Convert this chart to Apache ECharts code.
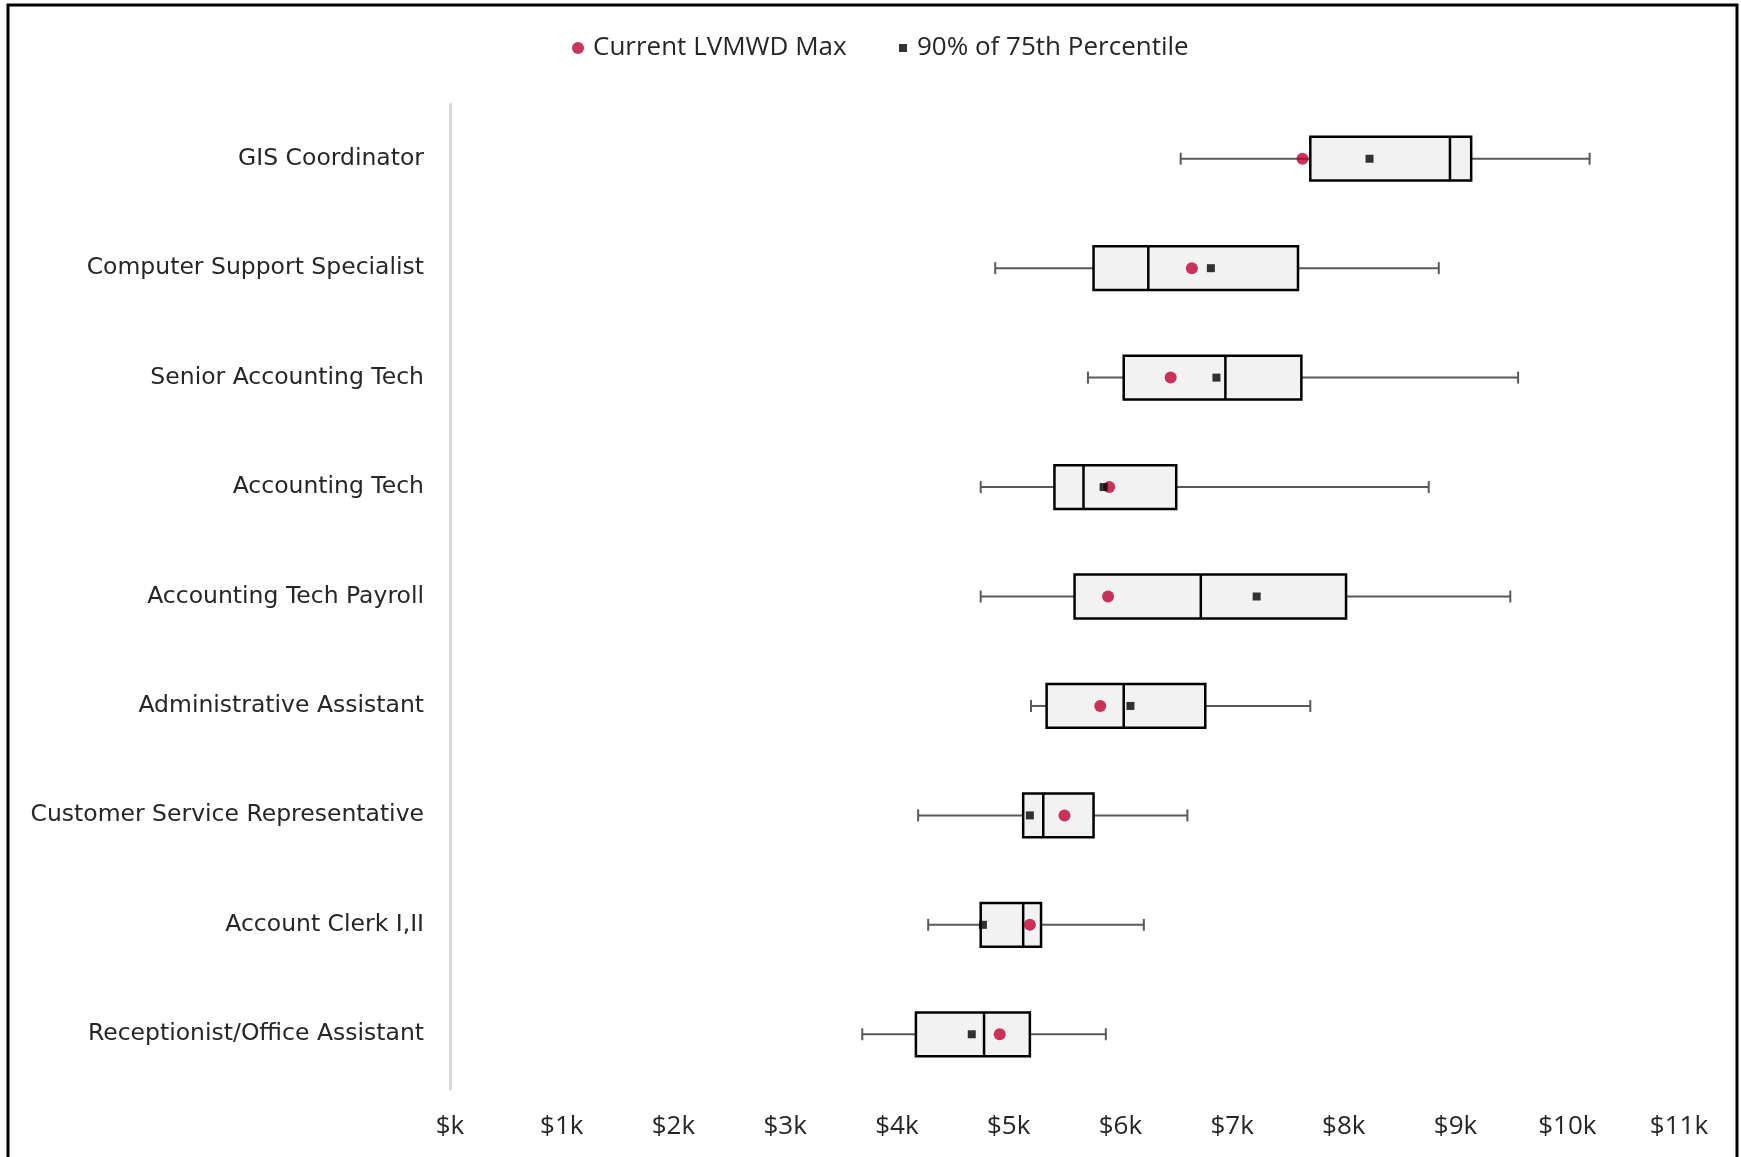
<!DOCTYPE html>
<html>
<head>
<meta charset="utf-8" />
<title>Salary ranges</title>
<script src="https://cdn.jsdelivr.net/npm/echarts@6/dist/echarts.min.js"></script>
<style>
  html, body { margin: 0; padding: 0; background: #fff; }
</style>
</head>
<body>
<div id="main" style="width: 1741px; height: 1157px;"></div>
<script type="text/javascript">
// job titles, top to bottom
var categories = ['GIS Coordinator', 'Computer Support Specialist', 'Senior Accounting Tech', 'Accounting Tech',
  'Accounting Tech Payroll', 'Administrative Assistant', 'Customer Service Representative',
  'Account Clerk I,II', 'Receptionist/Office Assistant'];

// box plot values, in dollars
var whiskerMin = [6540, 4880, 5710, 4750, 4750, 5200, 4190, 4280, 3690];
var q1 = [7700, 5760, 6030, 5410, 5590, 5340, 5130, 4750, 4170];
var median = [8950, 6250, 6940, 5670, 6720, 6030, 5310, 5130, 4780];
var q3 = [9140, 7590, 7620, 6500, 8020, 6760, 5760, 5290, 5190];
var whiskerMax = [10200, 8850, 9560, 8760, 9490, 7700, 6600, 6210, 5870];

// markers
var currentMax = [7630, 6640, 6450, 5900, 5890, 5820, 5500, 5190, 4920];
var pct90of75 = [8230, 6810, 6860, 5850, 7220, 6090, 5190, 4770, 4670];

var boxData = [];
var redData = [];
var blackData = [];
for (var i = 0; i < categories.length; i++) {
  boxData.push([i, whiskerMin[i], q1[i], median[i], q3[i], whiskerMax[i]]);
  redData.push([currentMax[i], i]);
  blackData.push([pct90of75[i], i]);
}

var textColor = '#262626';

function renderBox(params, api) {
  var cat = api.value(0);
  var pMin = api.coord([api.value(1), cat]);
  var pQ1 = api.coord([api.value(2), cat]);
  var pMed = api.coord([api.value(3), cat]);
  var pQ3 = api.coord([api.value(4), cat]);
  var pMax = api.coord([api.value(5), cat]);
  var band = api.size([0, 1])[1];
  var h = band * 0.4;
  var y = pMed[1];
  var cap = 6;
  var whisk = { stroke: '#595959', lineWidth: 2 };
  return {
    type: 'group',
    children: [
      { type: 'line', shape: { x1: pMin[0], y1: y, x2: pQ1[0], y2: y }, style: whisk },
      { type: 'line', shape: { x1: pQ3[0], y1: y, x2: pMax[0], y2: y }, style: whisk },
      { type: 'line', shape: { x1: pMin[0], y1: y - cap, x2: pMin[0], y2: y + cap }, style: whisk },
      { type: 'line', shape: { x1: pMax[0], y1: y - cap, x2: pMax[0], y2: y + cap }, style: whisk },
      {
        type: 'rect',
        shape: { x: pQ1[0], y: y - h / 2, width: pQ3[0] - pQ1[0], height: h },
        style: { fill: '#f2f2f2', stroke: '#000', lineWidth: 2.5 }
      },
      { type: 'line', shape: { x1: pMed[0], y1: y - h / 2, x2: pMed[0], y2: y + h / 2 }, style: { stroke: '#000', lineWidth: 2.5 } }
    ]
  };
}

var myChart = echarts.init(document.getElementById('main'));

var option = {
  backgroundColor: '#fff',
  animation: false,
  graphic: [{
    type: 'rect',
    shape: { x: 8, y: 5, width: 1729, height: 1170 },
    style: { fill: 'none', stroke: '#000', lineWidth: 3 },
    silent: true
  }],
  legend: [{
    data: ['Current LVMWD Max'],
    left: 567, top: 30,
    icon: 'circle',
    itemWidth: 12, itemHeight: 12,
    textStyle: { fontFamily: 'Open Sans', fontSize: 26, color: textColor, padding: [0, 0, 0, 4] }
  }, {
    data: ['90% of 75th Percentile'],
    left: 894, top: 30,
    icon: 'rect',
    itemWidth: 8, itemHeight: 8,
    textStyle: { fontFamily: 'Open Sans', fontSize: 26, color: textColor, padding: [0, 0, 0, 5] }
  }],
  grid: { left: 450, right: 62, top: 104, bottom: 68, containLabel: false },
  xAxis: {
    type: 'value',
    min: 0, max: 11000, interval: 1000,
    axisLine: { show: false },
    axisTick: { show: false },
    splitLine: { show: false },
    axisLabel: {
      margin: 25,
      fontFamily: 'Open Sans', fontSize: 26, color: textColor,
      formatter: function (v) { return '$' + (v === 0 ? '' : v / 1000) + 'k'; }
    }
  },
  yAxis: {
    type: 'category',
    data: categories,
    inverse: true,
    axisLine: { show: true, lineStyle: { color: '#d9d9d9', width: 3 } },
    axisTick: { show: false },
    splitLine: { show: false },
    axisLabel: {
      margin: 26,
      fontFamily: 'DejaVu Sans', fontSize: 23.5, color: textColor
    }
  },
  series: [{
    name: 'range',
    type: 'custom',
    renderItem: renderBox,
    encode: { x: [1, 2, 3, 4, 5], y: 0 },
    data: boxData,
    z: 2
  }, {
    name: 'Current LVMWD Max',
    type: 'scatter',
    symbol: 'circle',
    symbolSize: 12,
    itemStyle: { color: '#BE0032' },
    data: redData,
    z: 3
  }, {
    name: '90% of 75th Percentile',
    type: 'scatter',
    symbol: 'rect',
    symbolSize: 8,
    itemStyle: { color: '#000' },
    data: blackData,
    z: 4
  }]
};

myChart.setOption(option);
</script>
</body>
</html>
